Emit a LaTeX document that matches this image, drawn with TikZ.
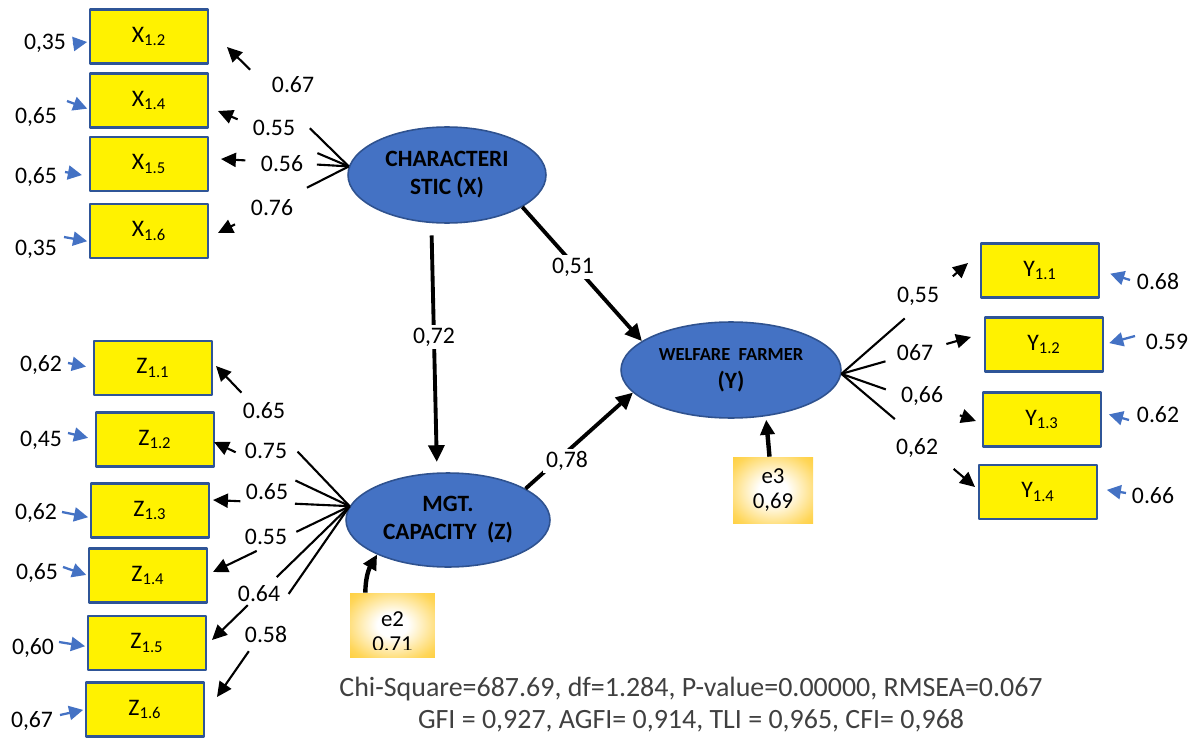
\documentclass[tikz,border=0pt]{standalone}
\usepackage{fontspec}
\setmainfont{Carlito}
\usetikzlibrary{shapes.geometric,arrows.meta,calc}

\definecolor{latblue}{RGB}{68,114,196}
\definecolor{latline}{RGB}{47,82,143}
\definecolor{boxline}{RGB}{47,85,151}
\definecolor{errgold}{RGB}{255,192,0}
\definecolor{fitgray}{RGB}{64,64,64}

\pgfdeclareradialshading{errglow}{\pgfpoint{0bp}{0bp}}{%
    color(0bp)=(white); color(9bp)=(white); color(30bp)=(errgold!65!white);
    color(50bp)=(errgold)}

\begin{document}
\begin{tikzpicture}[x=0.02cm,y=-0.02cm,line join=round,
    >={Triangle[length=8.5pt,width=8pt]},
    every node/.style={font=\fontsize{13.5}{16}\selectfont},
    ind/.style={draw=boxline, fill=yellow, line width=1.3pt, minimum width=2.36cm, minimum height=1.08cm, inner sep=0pt},
    lat/.style={ellipse, draw=latline, fill=latblue, line width=0.9pt, inner sep=0pt, align=center, font=\fontsize{13.3}{16}\selectfont\bfseries},
    err/.style={shading=errglow, inner sep=0pt},
    load/.style={line width=1.2pt},
    struct/.style={->, line width=2.2pt, >={Triangle[length=9.5pt,width=9pt]}},
    erra/.style={-{Triangle[length=8pt,width=8pt]}, draw=latblue, line width=1.3pt, shorten >=1pt},
    coef/.style={fill=white, inner sep=1.5pt}]

    \useasboundingbox (0,0) rectangle (1196,740);

    % Latent variables
    \node[lat, minimum width=3.96cm, minimum height=1.92cm] (CX) at (447,175) {CHARACTERI\\STIC (X)};
    \node[lat, minimum width=4.08cm, minimum height=1.88cm] (CZ) at (448,520) {MGT.\\CAPACITY\ \ (Z)};
    \node[lat, minimum width=4.4cm, minimum height=1.92cm] (CY) at (731,370) {{\fontsize{10.5}{13}\selectfont WELFARE\ \ FARMER}\\(Y)};

    % Indicators of X
    \node[ind] (X12) at (149,36.5) {X\textsubscript{1.2}};
    \node[ind] (X14) at (149,100.5) {X\textsubscript{1.4}};
    \node[ind] (X15) at (149,164) {X\textsubscript{1.5}};
    \node[ind] (X16) at (149,231) {X\textsubscript{1.6}};

    % Indicators of Z
    \node[ind] (Z11) at (153,368) {Z\textsubscript{1.1}};
    \node[ind] (Z12) at (155,439.5) {Z\textsubscript{1.2}};
    \node[ind] (Z13) at (150,510.5) {Z\textsubscript{1.3}};
    \node[ind] (Z14) at (148,575.5) {Z\textsubscript{1.4}};
    \node[ind] (Z15) at (147,643) {Z\textsubscript{1.5}};
    \node[ind] (Z16) at (145,709.5) {Z\textsubscript{1.6}};

    % Indicators of Y
    \node[ind] (Y11) at (1040,270.5) {Y\textsubscript{1.1}};
    \node[ind] (Y12) at (1044,344.5) {Y\textsubscript{1.2}};
    \node[ind] (Y13) at (1042,419.5) {Y\textsubscript{1.3}};
    \node[ind] (Y14) at (1038,492) {Y\textsubscript{1.4}};

    % Disturbances
    \node[err, minimum width=1.7cm, minimum height=1.28cm] (E2) at (392.5,625) {};
    \begin{scope}
        \clip (E2.north west) rectangle (435,649);
        \node[align=center, font=\fontsize{13}{14.2}\selectfont] at (392.5,632) {e2\\0.71};
    \end{scope}
    \node[err, minimum width=1.6cm, minimum height=1.34cm, align=center, font=\fontsize{13}{14.2}\selectfont] (E3) at (773,490.5) {e3\\0,69};

    % Structural paths
    \draw[struct, shorten <=7pt, shorten >=6pt] (CX.252) -- (CZ.103);
    \draw[struct] (CX.-23) -- (CY.162);
    \draw[struct] (CZ.22) -- (CY.193);
    \node[coef] (p72) at (434,337) {0,72};
    \node[coef] (p51) at (573,267) {0,51};
    \node[coef] (p78) at (567,461) {0,78};

    % Disturbance arrows
    \draw[->, line width=2.5pt] (E2.130) to[out=90,in=240] (CZ.206);
    \draw[->, line width=2.5pt, shorten >=2pt] ([xshift=-2pt]E3.north) to[out=95,in=275] (CY.-53);

    % Loadings of X
    \coordinate (aX12) at (227,47);
    \coordinate (aX14) at (218,111);
    \coordinate (aX15) at (221,159);
    \coordinate (aX16) at (218,233);
    \draw[load] (CX.175) -- ($(CX.175)!0.32!(aX12)$);
    \draw[load,->] ($(CX.175)!0.81!(aX12)$) -- (aX12);
    \draw[load] (CX.175) -- ($(CX.175)!0.24!(aX14)$);
    \draw[load,->] ($(CX.175)!0.85!(aX14)$) -- (aX14);
    \draw[load] (CX.175) -- ($(CX.175)!0.25!(aX15)$);
    \draw[load,->] ($(CX.175)!0.81!(aX15)$) -- (aX15);
    \draw[load] (CX.175) -- ($(CX.175)!0.32!(aX16)$);
    \draw[load,->] ($(CX.175)!0.87!(aX16)$) -- (aX16);
    \node (lX12) at (293,85) {0.67};
    \node (lX14) at (274,128) {0.55};
    \node (lX15) at (282,164) {0.56};
    \node (lX16) at (272,208) {0.76};

    % Loadings of Z
    \coordinate (aZ11) at (216,366);
    \coordinate (aZ12) at (214,442);
    \coordinate (aZ13) at (213,500);
    \coordinate (aZ14) at (213,572);
    \coordinate (aZ15) at (212,640);
    \coordinate (aZ16) at (217,697);
    \draw[load] (CZ.172) -- ($(CZ.172)!0.39!(aZ11)$);
    \draw[load,->] ($(CZ.172)!0.81!(aZ11)$) -- (aZ11);
    \draw[load] (CZ.172) -- ($(CZ.172)!0.40!(aZ12)$);
    \draw[load,->] ($(CZ.172)!0.84!(aZ12)$) -- (aZ12);
    \draw[load] (CZ.172) -- ($(CZ.172)!0.40!(aZ13)$);
    \draw[load,->] ($(CZ.172)!0.80!(aZ13)$) -- (aZ13);
    \draw[load] (CZ.172) -- ($(CZ.172)!0.39!(aZ14)$);
    \draw[load,->] ($(CZ.172)!0.68!(aZ14)$) -- (aZ14);
    \draw[load] (CZ.172) -- ($(CZ.172)!0.53!(aZ15)$);
    \draw[load,->] ($(CZ.172)!0.74!(aZ15)$) -- (aZ15);
    \draw[load] (CZ.172) -- ($(CZ.172)!0.46!(aZ16)$);
    \draw[load,->] ($(CZ.172)!0.76!(aZ16)$) -- (aZ16);
    \node (lZ11) at (264,411) {0.65};
    \node (lZ12) at (266,451) {0.75};
    \node (lZ13) at (267,492) {0.65};
    \node (lZ14) at (266,537) {0.55};
    \node (lZ15) at (259,594) {0.64};
    \node (lZ16) at (266,634) {0.58};

    % Loadings of Y
    \coordinate (aY11) at (968,263);
    \coordinate (aY12) at (971,337);
    \coordinate (aY13) at (976,421);
    \coordinate (aY14) at (975,487);
    \draw[load] (CY.-2) -- ($(CY.-2)!0.50!(aY11)$);
    \draw[load,->] ($(CY.-2)!0.88!(aY11)$) -- (aY11);
    \draw[load] (CY.-2) -- ($(CY.-2)!0.34!(aY12)$);
    \draw[load,->] ($(CY.-2)!0.81!(aY12)$) -- (aY12);
    \draw[load] (CY.-2) -- ($(CY.-2)!0.33!(aY13)$);
    \draw[load,->] ($(CY.-2)!0.88!(aY13)$) -- (aY13);
    \draw[load] (CY.-2) -- ($(CY.-2)!0.40!(aY14)$);
    \draw[load,->] ($(CY.-2)!0.84!(aY14)$) -- (aY14);
    \node (lY11) at (918,296) {0,55};
    \node (lY12) at (915,353) {067};
    \node (lY13) at (922,396) {0,66};
    \node (lY14) at (917,448) {0,62};

    % Measurement errors
    \coordinate (eX12) at (73,44);
    \coordinate (eX14) at (67,101);
    \coordinate (eX15) at (65,172);
    \coordinate (eX16) at (64,237);
    \draw[erra] (eX12) -- ([yshift=-3pt]X12.west);
    \draw[erra] (eX14) -- ([yshift=-5pt]X14.west);
    \draw[erra, shorten >=4pt] (eX15) -- ([yshift=-7pt]X15.west);
    \draw[erra] (eX16) -- ([yshift=-6pt]X16.west);
    \node (vX12) at (45,43) {0,35};
    \node (vX14) at (36,117) {0,65};
    \node (vX15) at (36,177) {0,65};
    \node (vX16) at (36,249) {0,35};

    \coordinate (eZ11) at (68,363);
    \coordinate (eZ12) at (68,433);
    \coordinate (eZ13) at (62,512);
    \coordinate (eZ14) at (63,567);
    \coordinate (eZ15) at (59,642);
    \coordinate (eZ16) at (60,715);
    \draw[erra, shorten >=4pt] (eZ11) -- (Z11.west);
    \draw[erra, shorten >=4pt] (eZ12) -- (Z12.west);
    \draw[erra] (eZ13) -- ([yshift=-4pt]Z13.west);
    \draw[erra] (eZ14) -- (Z14.west);
    \draw[erra] (eZ15) -- ([yshift=-2pt]Z15.west);
    \draw[erra] (eZ16) -- (Z16.west);
    \node (vZ11) at (41,365) {0,62};
    \node (vZ12) at (41,440) {0,45};
    \node (vZ13) at (36,513) {0,62};
    \node (vZ14) at (37,573) {0,65};
    \node (vZ15) at (33,648) {0,60};
    \node (vZ16) at (32,721) {0,67};

    \coordinate (eY11) at (1130,280);
    \coordinate (eY12) at (1135,336);
    \coordinate (eY13) at (1129,420);
    \coordinate (eY14) at (1126,493);
    \draw[erra, shorten >=6pt] (eY11) -- (Y11.east);
    \draw[erra, shorten >=3pt] (eY12) -- (Y12.east);
    \draw[erra, shorten >=4pt] (eY13) -- ([yshift=4pt]Y13.east);
    \draw[erra, shorten >=5pt] (eY14) -- ([yshift=2pt]Y14.east);
    \node (vY11) at (1158,281) {0.68};
    \node (vY12) at (1167,342) {0.59};
    \node (vY13) at (1158,415) {0.62};
    \node (vY14) at (1153,496) {0.66};

    % Fit indices
    \node[text=fitgray, font=\fontsize{15.9}{19}\selectfont] (fit1) at (691,689) {Chi-Square=687.69, df=1.284, P-value=0.00000, RMSEA=0.067};
    \node[text=fitgray, font=\fontsize{15.9}{19}\selectfont] (fit2) at (691,721) {GFI = 0,927, AGFI= 0,914, TLI = 0,965, CFI= 0,968};

\end{tikzpicture}
\end{document}
